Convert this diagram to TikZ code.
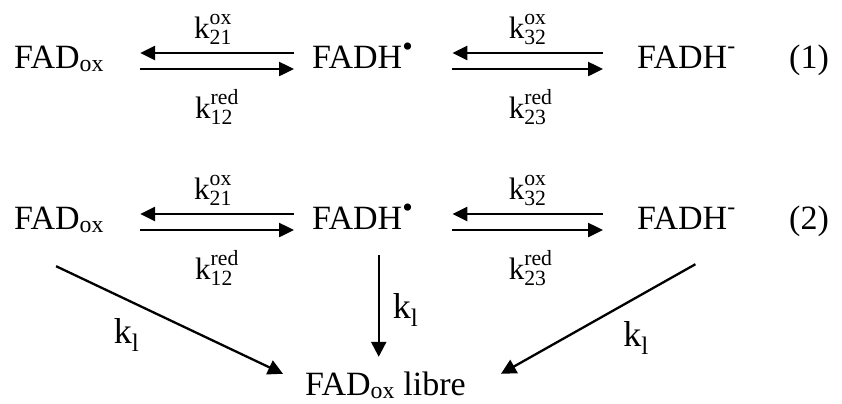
\documentclass[tikz,border=0pt]{standalone}
\usepackage{fontspec}
\setmainfont{Liberation Serif}
\usepackage{amsmath}
\usetikzlibrary{arrows.meta}

\newcommand{\semiq}{\textsuperscript{\raisebox{0.1em}{\fontsize{30bp}{30bp}\selectfont\textbullet}}}
\newcommand{\anion}{\textsuperscript{\raisebox{0.25em}{-}}}

\begin{document}
\begin{tikzpicture}[x=1bp, y=-1bp,
      species/.style={inner sep=0pt, anchor=base west, text height=22bp, text depth=8bp,
        font=\fontsize{34bp}{40bp}\selectfont},
      rate/.style={inner sep=0pt, anchor=base, font=\fontsize{31bp}{36bp}\selectfont},
      leakrate/.style={inner sep=0pt, font=\fontsize{36bp}{42bp}\selectfont},
      eq/.style={line width=2.5bp, -{Triangle[length=15bp,width=14bp]}},
      leak/.style={line width=2.3bp, -{Triangle[length=15bp,width=15bp]}}]
    \useasboundingbox (0,0) rectangle (842,403);
    % scheme (1)
    \node[species] (ox1) at (14,68) {FAD\textsubscript{ox}};
    \node[species] (sq1) at (312,68) {FADH\semiq};
    \node[species] (hq1) at (637,68) {FADH\anion};
    \node[species] (num1) at (789,68) {(1)};
    % scheme (2)
    \node[species] (ox2) at (14,229) {FAD\textsubscript{ox}};
    \node[species] (sq2) at (312,229) {FADH\semiq};
    \node[species] (hq2) at (637,229) {FADH\anion};
    \node[species] (num2) at (789,229) {(2)};
    \node[species, text depth=4bp] (free) at (305,395) {FAD\textsubscript{ox} libre};
    % equilibria of scheme (1)
    \draw[eq] ([xshift=-18bp,yshift=8bp]sq1.west) -- ([xshift=36bp,yshift=8bp]ox1.east)
      node[rate, midway, xshift=-4bp, yshift=15bp] {$\text{k}_{\text{21}}^{\text{ox}}$};
    \draw[eq] ([xshift=36bp,yshift=-8bp]ox1.east) -- ([xshift=-18bp,yshift=-8bp]sq1.west)
      node[rate, midway, yshift=-49bp] {$\text{k}_{\text{12}}^{\text{red}}$};
    \draw[eq] ([xshift=-34bp,yshift=8bp]hq1.west) -- ([xshift=39bp,yshift=8bp]sq1.east)
      node[rate, midway, yshift=15bp] {$\text{k}_{\text{32}}^{\text{ox}}$};
    \draw[eq] ([xshift=39bp,yshift=-8bp]sq1.east) -- ([xshift=-34bp,yshift=-8bp]hq1.west)
      node[rate, midway, xshift=3bp, yshift=-49bp] {$\text{k}_{\text{23}}^{\text{red}}$};
    % equilibria of scheme (2)
    \draw[eq] ([xshift=-18bp,yshift=8bp]sq2.west) -- ([xshift=36bp,yshift=8bp]ox2.east)
      node[rate, midway, xshift=-4bp, yshift=15bp] {$\text{k}_{\text{21}}^{\text{ox}}$};
    \draw[eq] ([xshift=36bp,yshift=-8bp]ox2.east) -- ([xshift=-18bp,yshift=-8bp]sq2.west)
      node[rate, midway, yshift=-49bp] {$\text{k}_{\text{12}}^{\text{red}}$};
    \draw[eq] ([xshift=-34bp,yshift=8bp]hq2.west) -- ([xshift=39bp,yshift=8bp]sq2.east)
      node[rate, midway, yshift=15bp] {$\text{k}_{\text{32}}^{\text{ox}}$};
    \draw[eq] ([xshift=39bp,yshift=-8bp]sq2.east) -- ([xshift=-34bp,yshift=-8bp]hq2.west)
      node[rate, midway, xshift=3bp, yshift=-49bp] {$\text{k}_{\text{23}}^{\text{red}}$};
    % release of the free flavin
    \coordinate (vtop) at ([xshift=16bp,yshift=-18bp]sq2.south);
    \draw[leak] ([xshift=-3bp,yshift=-29bp]ox2.south) -- ([xshift=-22bp,yshift=-1bp]free.north west)
      node[leakrate, midway, xshift=-43bp, yshift=-15bp] {k\textsubscript{l}};
    \draw[leak, shorten >=16bp] (vtop) -- (vtop |- free.north)
      node[leakrate, midway, xshift=27bp, yshift=4bp] {k\textsubscript{l}};
    \draw[leak] ([xshift=9bp,yshift=-27bp]hq2.south) -- ([xshift=35bp,yshift=-1bp]free.north east)
      node[leakrate, midway, xshift=38bp, yshift=-19bp] {k\textsubscript{l}};
\end{tikzpicture}
\end{document}
